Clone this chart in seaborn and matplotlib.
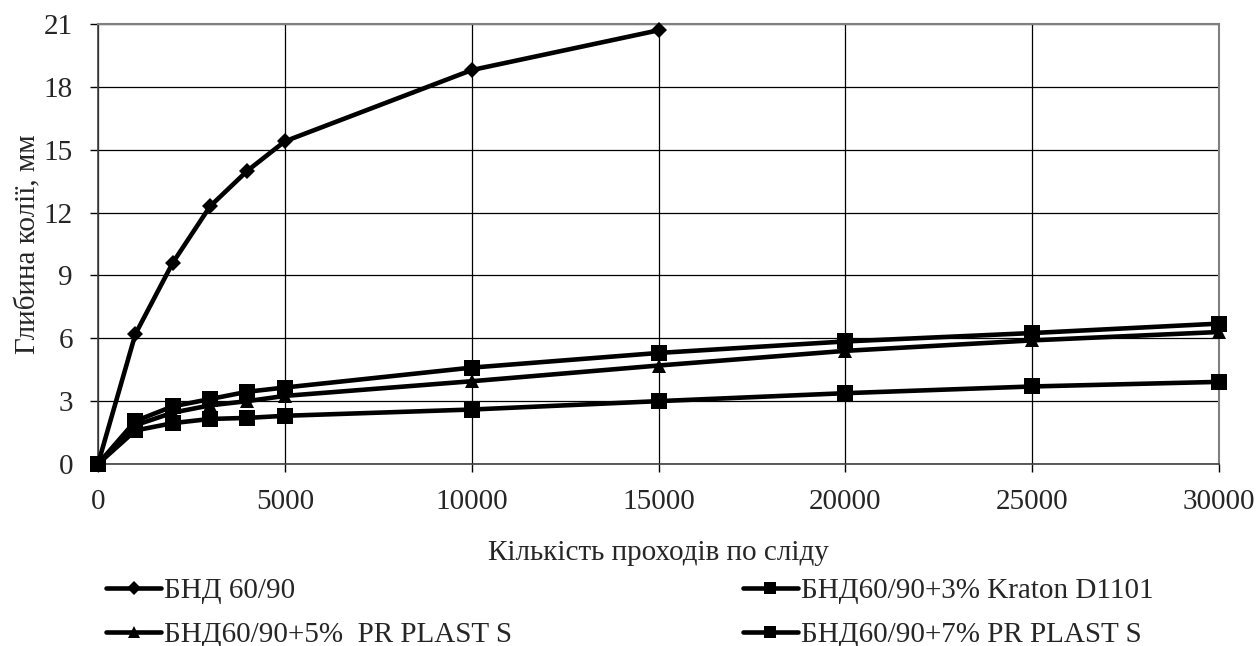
import numpy as np
import matplotlib
matplotlib.use("Agg")
import matplotlib.pyplot as plt
import pandas as pd
import seaborn as sns

sns.set_style("white")
plt.rcParams['font.family'] = ['Liberation Serif', 'DejaVu Serif']

# data
passes_bnd = [0, 1000, 2000, 3000, 4000, 5000, 10000, 15000]
depth_bnd = [0, 6.2, 9.6, 12.3, 14.0, 15.4, 18.8, 20.7]

passes = [0, 1000, 2000, 3000, 4000, 5000, 10000, 15000, 20000, 25000, 30000]
depth_kraton3 = [0, 2.05, 2.75, 3.1, 3.45, 3.65, 4.6, 5.3, 5.85, 6.25, 6.7]
depth_pr5 = [0, 1.85, 2.45, 2.8, 3.0, 3.25, 3.95, 4.7, 5.4, 5.9, 6.3]
depth_pr7 = [0, 1.6, 1.95, 2.15, 2.2, 2.3, 2.6, 3.0, 3.38, 3.7, 3.92]

names = ["БНД 60/90", "БНД60/90+3% Kraton D1101",
         "БНД60/90+5%  PR PLAST S", "БНД60/90+7% PR PLAST S"]
markers = ["D", "s", "^", "s"]
msizes = [8, 11, 10, 11]

df = pd.concat([
    pd.DataFrame({"x": passes_bnd, "y": depth_bnd, "s": names[0]}),
    pd.DataFrame({"x": passes, "y": depth_kraton3, "s": names[1]}),
    pd.DataFrame({"x": passes, "y": depth_pr5, "s": names[2]}),
    pd.DataFrame({"x": passes, "y": depth_pr7, "s": names[3]}),
])

FS = 21

fig = plt.figure(figsize=(12.59, 6.46), dpi=100)
ax = fig.add_axes([98/1259, 1 - 464/646, (1219-98)/1259, (464-24)/646])

handles = {}
for name, mk, ms in zip(names, markers, msizes):
    sub = df[df["s"] == name]
    sns.lineplot(data=sub, x="x", y="y", ax=ax, color="black", lw=3.3,
                 marker=mk, markersize=ms, markeredgecolor="black",
                 markeredgewidth=0, legend=False, zorder=3)
    handles[name] = ax.lines[-1]

ax.set_xlim(0, 30000)
ax.set_ylim(0, 21)
ax.set_xticks(np.arange(0, 30001, 5000))
ax.set_yticks(np.arange(0, 22, 3))
ax.grid(True, color="black", lw=0.9)
ax.tick_params(axis="both", labelsize=FS, direction="out", length=6,
               width=1, color="black", left=True, bottom=True)
ax.tick_params(axis="y", pad=12)
ax.tick_params(axis="x", pad=12)
for side in ["top", "right"]:
    ax.spines[side].set_color("#808080")
    ax.spines[side].set_linewidth(1.5)
for side in ["left", "bottom"]:
    ax.spines[side].set_color("#404040")
    ax.spines[side].set_linewidth(1.2)
for ln in ax.lines:
    ln.set_clip_on(False)

ax.set_xlabel("Кількість проходів по сліду", fontsize=FS, labelpad=18)
ax.set_ylabel("Глибина колії, мм", fontsize=FS, labelpad=2)

order = [names[0], names[2], names[1], names[3]]
fig.legend([handles[n] for n in order], order, ncol=2, loc="upper left",
           bbox_to_anchor=(106/1259, 1 - 578/646), frameon=False, fontsize=FS,
           handlelength=1.9, handletextpad=0.1, columnspacing=7.9,
           labelspacing=0.6, borderaxespad=0, borderpad=0, markerscale=0.85)

fig.savefig("out.png", dpi=100)
